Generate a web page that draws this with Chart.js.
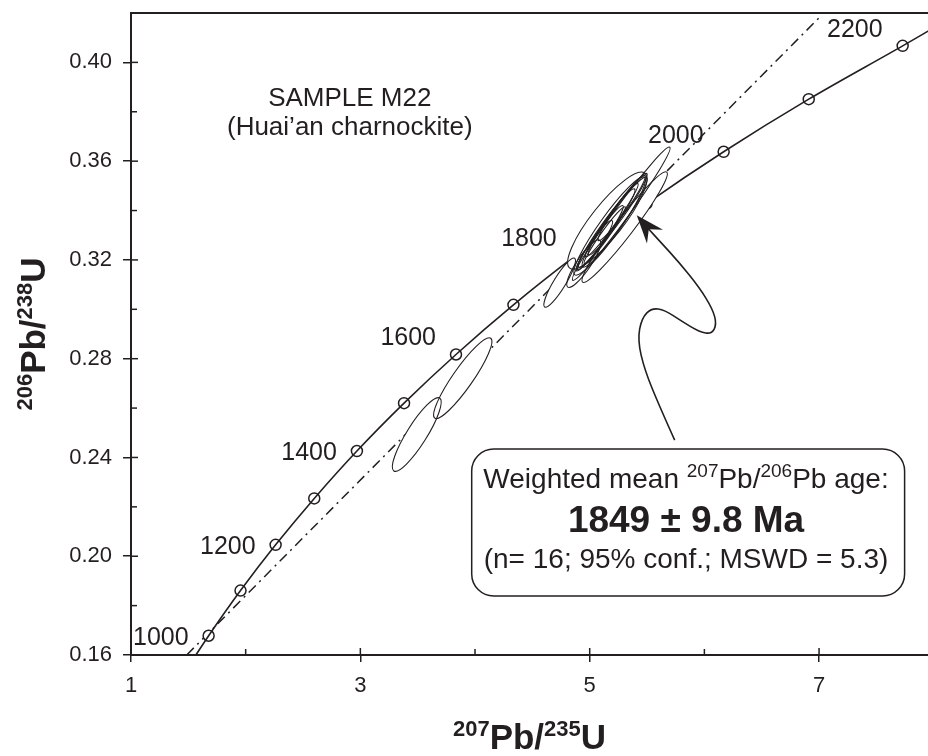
<!DOCTYPE html>
<html>
<head>
<meta charset="utf-8">
<script src="https://cdn.jsdelivr.net/npm/chart.js@4.4.0/dist/chart.umd.min.js"></script>
<style>
  html, body { margin: 0; padding: 0; background: #fff; }
  #frame { width: 928px; height: 756px; overflow: hidden; position: relative; }
  /* canvas a little wider than the frame: the plot runs off the right edge like the original */
  #wrap { width: 935px; height: 756px; position: relative; }
</style>
</head>
<body>
<div id="frame"><div id="wrap"><canvas id="chart"></canvas></div></div>
<script>
// --- Concordia: ages (Ma) and their 207Pb/235U, 206Pb/238U ratios ---
const concAges = [1000, 1100, 1200, 1300, 1400, 1500, 1600, 1700, 1800, 1900, 2000, 2100, 2200];
const concX = [1.677, 1.955, 2.261, 2.598, 2.970, 3.381, 3.834, 4.335, 4.887, 5.496, 6.168, 6.910, 7.729];
const concY = [0.1678, 0.1861, 0.2046, 0.2234, 0.2426, 0.2620, 0.2817, 0.3018, 0.3221, 0.3428, 0.3638, 0.3851, 0.4067];
// where the curve enters / leaves the frame
const concEnds = [{ x: 1.566, y: 0.160 }, { x: 8.0, y: 0.4140 }];
const labelAges = [1000, 1200, 1400, 1600, 1800, 2000, 2200];

// --- dash-dot reference line ---
const refX = [1.486, 7.02];
const refY = [0.160, 0.419];

// --- analyses (n = 16): ratio, half-width, ratio, half-width, rho ---
const ellX   = [3.893, 3.492, 5.153, 5.275, 5.305, 4.738, 4.948, 5.087, 5.148, 5.192, 5.131, 5.244, 5.044, 5.218, 5.279, 5.174];
const ellSX  = [0.254, 0.213, 0.345, 0.426, 0.372, 0.138, 0.148, 0.206, 0.247, 0.231, 0.180, 0.257, 0.156, 0.284, 0.206, 0.312];
const ellY   = [0.2721, 0.2493, 0.3359, 0.3387, 0.3333, 0.3108, 0.3185, 0.3288, 0.3329, 0.3361, 0.3300, 0.3385, 0.3260, 0.3353, 0.3410, 0.3337];
const ellSY  = [0.01635, 0.01492, 0.01964, 0.02698, 0.02238, 0.00998, 0.00964, 0.01323, 0.01588, 0.01488, 0.01157, 0.01654, 0.00996, 0.01822, 0.01323, 0.01991];
const ellRho = [0.910, 0.879, 0.863, 0.984, 0.965, 0.898, 0.872, 0.965, 0.966, 0.973, 0.971, 0.968, 0.940, 0.954, 0.965, 0.940];

// --- axes ---
const xTicks = [1, 2, 3, 4, 5, 6, 7];
const xLabels = [1, 3, 5, 7];
const yTicks = [0.16, 0.18, 0.20, 0.22, 0.24, 0.26, 0.28, 0.30, 0.32, 0.34, 0.36, 0.38, 0.40];
const yLabels = [0.16, 0.20, 0.24, 0.28, 0.32, 0.36, 0.40];

// --- annotation: curved arrow from the result box to the cluster ---
const arrowX = [5.741, 5.611, 5.479, 5.418, 5.453, 5.540, 5.654, 5.802, 5.959, 6.064, 6.107, 6.072, 5.959, 5.785, 5.611, 5.506];
const arrowY = [0.2470, 0.2604, 0.2754, 0.2875, 0.2964, 0.3005, 0.2997, 0.2952, 0.2908, 0.2900, 0.2940, 0.3001, 0.3086, 0.3187, 0.3276, 0.3329];
const arrowTip = { x: 5.410, y: 0.3381 };

const ink = '#231f20';
const font = "'Liberation Sans', Arial, Helvetica, sans-serif";

function richText(ctx, parts, x, y, size, supSize, bold, align) {
  const w8 = bold ? 'bold ' : '';
  const fBase = w8 + size + 'px ' + font;
  const fSup = w8 + supSize + 'px ' + font;
  let w = 0;
  parts.forEach(p => { ctx.font = p[1] ? fSup : fBase; w += ctx.measureText(p[0]).width; });
  let cx = align === 'center' ? x - w / 2 : x;
  ctx.textAlign = 'left';
  ctx.textBaseline = 'alphabetic';
  parts.forEach(p => {
    ctx.font = p[1] ? fSup : fBase;
    ctx.fillText(p[0], cx, p[1] ? y - size * 0.38 : y);
    cx += ctx.measureText(p[0]).width;
  });
}

const decor = {
  id: 'decor',
  afterDatasetsDraw(chart) {
    const { ctx, chartArea: ca, scales: { x, y } } = chart;
    const kx = x.getPixelForValue(1) - x.getPixelForValue(0);
    const ky = y.getPixelForValue(0) - y.getPixelForValue(1);
    ctx.save();
    ctx.beginPath();
    ctx.rect(ca.left, ca.top, ca.right - ca.left, ca.bottom - ca.top);
    ctx.clip();
    const shapes = ellX.map((v, i) => {
      const a = (kx * ellSX[i]) ** 2, c = (ky * ellSY[i]) ** 2;
      const b = -ellRho[i] * kx * ellSX[i] * ky * ellSY[i];
      const mid = (a + c) / 2, d = Math.sqrt(((a - c) / 2) ** 2 + b * b);
      return {
        cx: x.getPixelForValue(v), cy: y.getPixelForValue(ellY[i]),
        r1: Math.sqrt(mid + d), r2: Math.sqrt(Math.max(mid - d, 0.5)),
        th: 0.5 * Math.atan2(2 * b, a - c)
      };
    });
    // white fill first so the curves underneath disappear, then every outline
    ctx.fillStyle = '#fff';
    shapes.forEach(s => { ctx.beginPath(); ctx.ellipse(s.cx, s.cy, s.r1, s.r2, s.th, 0, Math.PI * 2); ctx.fill(); });
    ctx.strokeStyle = ink;
    ctx.lineWidth = 1.1;
    shapes.forEach(s => { ctx.beginPath(); ctx.ellipse(s.cx, s.cy, s.r1, s.r2, s.th, 0, Math.PI * 2); ctx.stroke(); });
    ctx.restore();
  },
  afterDraw(chart) {
    const { ctx, chartArea: ca, scales: { x, y } } = chart;
    ctx.save();
    ctx.strokeStyle = ink;
    ctx.fillStyle = ink;

    // top frame line
    ctx.lineWidth = 2;
    ctx.beginPath();
    ctx.moveTo(ca.left - 1, ca.top);
    ctx.lineTo(ca.right, ca.top);
    ctx.stroke();

    // inner tick marks
    ctx.lineWidth = 1.5;
    yTicks.forEach(v => {
      const py = y.getPixelForValue(v);
      const len = yLabels.includes(v) ? 7 : 6;
      ctx.beginPath(); ctx.moveTo(ca.left, py); ctx.lineTo(ca.left + len, py); ctx.stroke();
    });
    xTicks.forEach(v => {
      const px = x.getPixelForValue(v);
      const len = xLabels.includes(v) ? 7 : 6;
      ctx.beginPath(); ctx.moveTo(px, ca.bottom); ctx.lineTo(px, ca.bottom - len); ctx.stroke();
    });

    // age labels on the concordia
    ctx.font = '25px ' + font;
    ctx.textAlign = 'right';
    ctx.textBaseline = 'alphabetic';
    labelAges.forEach(age => {
      const i = concAges.indexOf(age);
      const px = x.getPixelForValue(concX[i]) - 20;
      const py = y.getPixelForValue(concY[i]) + (age <= 1400 ? 9 : -9);
      ctx.fillText(String(age), px, py);
    });

    // sample name
    ctx.font = '26px ' + font;
    ctx.textAlign = 'center';
    ctx.fillText('SAMPLE M22', x.getPixelForValue(2.908), y.getPixelForValue(0.3823));
    ctx.fillText('(Huai\u2019an charnockite)', x.getPixelForValue(2.908), y.getPixelForValue(0.3705));

    // result box
    const bl = x.getPixelForValue(3.971), br = x.getPixelForValue(7.746);
    const bt = y.getPixelForValue(0.2434), bb = y.getPixelForValue(0.1839);
    const r = 22;
    ctx.lineWidth = 1.5;
    ctx.beginPath();
    ctx.moveTo(bl + r, bt);
    ctx.arcTo(br, bt, br, bb, r);
    ctx.arcTo(br, bb, bl, bb, r);
    ctx.arcTo(bl, bb, bl, bt, r);
    ctx.arcTo(bl, bt, br, bt, r);
    ctx.closePath();
    ctx.stroke();
    const tx = x.getPixelForValue(5.84);
    richText(ctx, [['Weighted mean ', 0], ['207', 1], ['Pb/', 0], ['206', 1], ['Pb age:', 0]], tx, y.getPixelForValue(0.2276), 28, 19, false, 'center');
    richText(ctx, [['1849 \u00b1 9.8 Ma', 0]], tx, y.getPixelForValue(0.2098), 37, 20, true, 'center');
    richText(ctx, [['(n= 16; 95% conf.; MSWD = 5.3)', 0]], tx, y.getPixelForValue(0.1952), 28, 19, false, 'center');

    // curved arrow
    const pts = arrowX.map((v, i) => ({ x: x.getPixelForValue(v), y: y.getPixelForValue(arrowY[i]) }));
    ctx.lineWidth = 1.6;
    ctx.beginPath();
    ctx.moveTo(pts[0].x, pts[0].y);
    for (let i = 1; i < pts.length - 1; i++) {
      ctx.quadraticCurveTo(pts[i].x, pts[i].y, (pts[i].x + pts[i + 1].x) / 2, (pts[i].y + pts[i + 1].y) / 2);
    }
    const last = pts[pts.length - 1];
    ctx.lineTo(last.x, last.y);
    ctx.stroke();
    const tip = { x: x.getPixelForValue(arrowTip.x), y: y.getPixelForValue(arrowTip.y) };
    const ang = Math.atan2(tip.y - last.y, tip.x - last.x);
    const L = 30, half = 0.36;
    ctx.beginPath();
    ctx.moveTo(tip.x, tip.y);
    ctx.lineTo(tip.x - L * Math.cos(ang - half), tip.y - L * Math.sin(ang - half));
    ctx.lineTo(tip.x - 0.62 * L * Math.cos(ang), tip.y - 0.62 * L * Math.sin(ang));
    ctx.lineTo(tip.x - L * Math.cos(ang + half), tip.y - L * Math.sin(ang + half));
    ctx.closePath();
    ctx.fill();

    // axis titles (x title centred on the visible part of the plot)
    richText(ctx, [['207', 1], ['Pb/', 0], ['235', 1], ['U', 0]], (ca.left + 928) / 2, 749, 35, 22, true, 'center');
    ctx.save();
    ctx.translate(45, (ca.top + ca.bottom) / 2);
    ctx.rotate(-Math.PI / 2);
    richText(ctx, [['206', 1], ['Pb/', 0], ['238', 1], ['U', 0]], 0, 0, 35, 22, true, 'center');
    ctx.restore();

    ctx.restore();
  }
};

const curvePts = [concEnds[0]].concat(concX.map((v, i) => ({ x: v, y: concY[i] })), [concEnds[1]]);

new Chart(document.getElementById('chart'), {
  type: 'scatter',
  data: {
    datasets: [
      {
        data: curvePts,
        showLine: true,
        borderColor: ink,
        borderWidth: 1.6,
        pointRadius: 0,
        cubicInterpolationMode: 'monotone'
      },
      {
        data: concX.map((v, i) => ({ x: v, y: concY[i] })),
        showLine: false,
        pointRadius: 5.5,
        pointBorderWidth: 1.5,
        pointBackgroundColor: '#fff',
        pointBorderColor: ink
      },
      {
        data: refX.map((v, i) => ({ x: v, y: refY[i] })),
        showLine: true,
        borderColor: ink,
        borderWidth: 1.5,
        borderDash: [10, 5, 2, 5],
        pointRadius: 0
      }
    ]
  },
  options: {
    responsive: true,
    maintainAspectRatio: false,
    animation: false,
    layout: { padding: { top: 13, left: 0, right: 0, bottom: 0 } },
    plugins: { legend: { display: false }, tooltip: { enabled: false } },
    scales: {
      x: {
        type: 'linear',
        min: 1,
        max: 7.95,
        afterBuildTicks: ax => { ax.ticks = xTicks.map(v => ({ value: v })); },
        afterFit: ax => { ax.height = 101; ax.paddingLeft = 0; ax.paddingRight = 0; },
        ticks: {
          autoSkip: false,
          maxRotation: 0,
          padding: 11,
          color: ink,
          font: { family: font, size: 22 },
          callback: v => xLabels.includes(v) ? String(v) : ''
        },
        grid: {
          drawOnChartArea: false,
          tickLength: 7,
          lineWidth: 1.5,
          color: c => (c.tick && xLabels.includes(c.tick.value)) ? ink : 'rgba(0,0,0,0)'
        },
        border: { display: true, color: ink, width: 2 }
      },
      y: {
        type: 'linear',
        min: 0.16,
        max: 0.42,
        afterBuildTicks: ax => { ax.ticks = yTicks.map(v => ({ value: v })); },
        afterFit: ax => { ax.width = 131; ax.paddingTop = 0; ax.paddingBottom = 0; },
        ticks: {
          autoSkip: false,
          padding: 11,
          color: ink,
          font: { family: font, size: 22 },
          callback: v => yLabels.includes(v) ? v.toFixed(2) : ''
        },
        grid: {
          drawOnChartArea: false,
          tickLength: 8,
          lineWidth: 1.5,
          color: c => (c.tick && yLabels.includes(c.tick.value)) ? ink : 'rgba(0,0,0,0)'
        },
        border: { display: true, color: ink, width: 2 }
      }
    }
  },
  plugins: [decor]
});
</script>
</body>
</html>
